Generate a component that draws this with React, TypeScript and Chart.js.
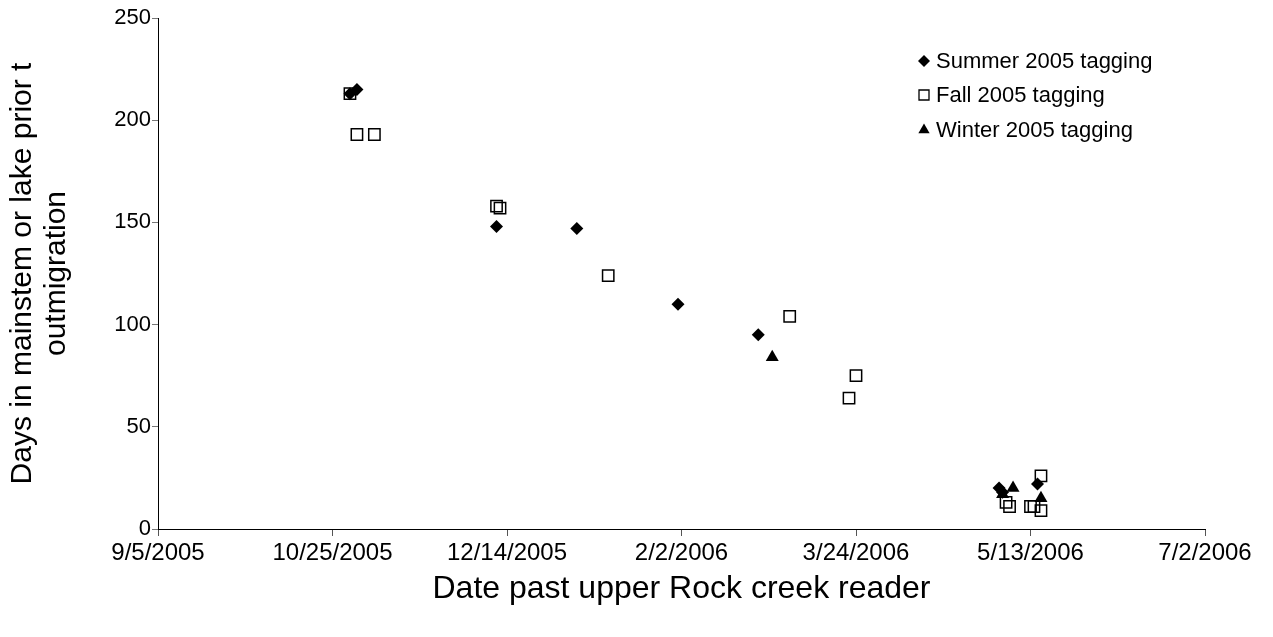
import React, { useEffect, useRef } from "react";
import { Chart, registerables } from "chart.js";

Chart.register(...registerables);

const START_DATE = "2005-09-05";
const xTickLabels = ["9/5/2005", "10/25/2005", "12/14/2005", "2/2/2006", "3/24/2006", "5/13/2006", "7/2/2006"];
const yTickValues = [0, 50, 100, 150, 200, 250];

const summerDates = ["2005-10-30", "2005-11-01", "2005-12-11", "2006-01-03", "2006-02-01", "2006-02-24", "2006-05-04", "2006-05-05", "2006-05-15"];
const summerDays = [213, 215, 148, 147, 110, 95, 20, 18, 22];

const fallDates = ["2005-10-30", "2005-11-01", "2005-11-06", "2005-12-11", "2005-12-12", "2006-01-12", "2006-03-05", "2006-03-22", "2006-03-24", "2006-05-06", "2006-05-07", "2006-05-13", "2006-05-14", "2006-05-16", "2006-05-16"];
const fallDays = [213, 193, 193, 158, 157, 124, 104, 64, 75, 13, 11, 11, 11, 26, 9];

const winterDates = ["2006-02-28", "2006-05-05", "2006-05-08", "2006-05-16"];
const winterDays = [84, 17, 20, 15];

const seriesNames = ["Summer 2005 tagging", "Fall 2005 tagging", "Winter 2005 tagging"];

const DAY_MS = 86400000;
const dayOffset = (d: string) => Math.round((Date.parse(d + "T00:00:00Z") - Date.parse(START_DATE + "T00:00:00Z")) / DAY_MS);
const toPoints = (dates: string[], vals: number[]) => dates.map((d, i) => ({ x: dayOffset(d), y: vals[i] }));

const FONT = "'Liberation Sans', Arial, sans-serif";

const legendPlugin = {
  id: "customLegend",
  afterDraw(chart: any) {
    const ctx = chart.ctx;
    const items = chart.data.datasets;
    const x0 = 924;
    const rows = [61, 95, 130];
    ctx.save();
    ctx.font = `22px ${FONT}`;
    ctx.textBaseline = "middle";
    ctx.fillStyle = "#000";
    items.forEach((ds: any, i: number) => {
      const y = rows[i];
      ctx.beginPath();
      if (ds.pointStyle === "rectRot") {
        const r = 6;
        ctx.moveTo(x0 - r, y);
        ctx.lineTo(x0, y - r);
        ctx.lineTo(x0 + r, y);
        ctx.lineTo(x0, y + r);
        ctx.closePath();
        ctx.fillStyle = "#000";
        ctx.fill();
      } else if (ds.pointStyle === "rect") {
        ctx.rect(x0 - 5, y - 5, 10, 10);
        ctx.lineWidth = 1.3;
        ctx.strokeStyle = "#000";
        ctx.stroke();
      } else {
        const r = 6.5;
        ctx.moveTo(x0, y - r);
        ctx.lineTo(x0 + r * 0.866, y + r * 0.5);
        ctx.lineTo(x0 - r * 0.866, y + r * 0.5);
        ctx.closePath();
        ctx.fillStyle = "#000";
        ctx.fill();
      }
      ctx.fillStyle = "#000";
      ctx.fillText(ds.label, x0 + 12, y + 1);
    });
    ctx.restore();
  },
};

export default function App() {
  const ref = useRef<HTMLCanvasElement | null>(null);
  useEffect(() => {
    if (!ref.current) return;
    const chart = new Chart(ref.current, {
      type: "scatter",
      data: {
        datasets: [
          {
            label: seriesNames[0],
            data: toPoints(summerDates, summerDays),
            pointStyle: "rectRot",
            pointRadius: 6.5,
            backgroundColor: "#000",
            borderColor: "#000",
            borderWidth: 0,
          },
          {
            label: seriesNames[1],
            data: toPoints(fallDates, fallDays),
            pointStyle: "rect",
            pointRadius: 8,
            backgroundColor: "rgba(0,0,0,0)",
            borderColor: "#000",
            borderWidth: 1.5,
          },
          {
            label: seriesNames[2],
            data: toPoints(winterDates, winterDays),
            pointStyle: "triangle",
            pointRadius: 7.5,
            backgroundColor: "#000",
            borderColor: "#000",
            borderWidth: 0,
          },
        ],
      },
      options: {
        responsive: false,
        animation: false,
        events: [],
        layout: { padding: { left: 0, top: 18, right: 68, bottom: 0 } },
        plugins: { legend: { display: false }, tooltip: { enabled: false } },
        scales: {
          x: {
            type: "linear",
            min: 0,
            max: 300,
            afterBuildTicks: (scale: any) => {
              scale.ticks = xTickLabels.map((_, i) => ({ value: i * 50 }));
            },
            afterFit: (scale: any) => {
              scale.height = 108;
            },
            ticks: {
              color: "#000",
              font: { family: FONT, size: 24 },
              padding: 3,
              maxRotation: 0,
              autoSkip: false,
              callback: (v: any) => xTickLabels[Math.round(Number(v) / 50)] ?? "",
            },
            grid: { drawOnChartArea: false, drawTicks: true, tickLength: 7, color: "#555", lineWidth: 1 },
            border: { display: true, color: "#000", width: 1 },
            title: {
              display: true,
              text: "Date past upper Rock creek reader",
              color: "#000",
              font: { family: FONT, size: 32 },
              padding: { top: 0, bottom: 29 },
            },
          },
          y: {
            type: "linear",
            min: 0,
            max: 250,
            afterBuildTicks: (scale: any) => {
              scale.ticks = yTickValues.map((v) => ({ value: v }));
            },
            afterFit: (scale: any) => {
              scale.width = 158;
            },
            ticks: {
              color: "#000",
              font: { family: FONT, size: 22 },
              padding: 1,
            },
            grid: { drawOnChartArea: false, drawTicks: true, tickLength: 6, color: "#777", lineWidth: 1 },
            border: { display: true, color: "#000", width: 1 },
            title: {
              display: true,
              text: ["Days in mainstem or lake prior t", "outmigration"],
              color: "#000",
              font: { family: FONT, size: 30, lineHeight: 1.15 },
              padding: { top: 5, bottom: 0 },
            },
          },
        },
      },
      plugins: [legendPlugin],
    } as any);
    return () => chart.destroy();
  }, []);
  return (
    <div style={{ position: "absolute", left: 0, top: 0, width: 1273, height: 637, background: "#fff" }}>
      <canvas ref={ref} width={1273} height={637} style={{ width: 1273, height: 637, display: "block" }} />
    </div>
  );
}
